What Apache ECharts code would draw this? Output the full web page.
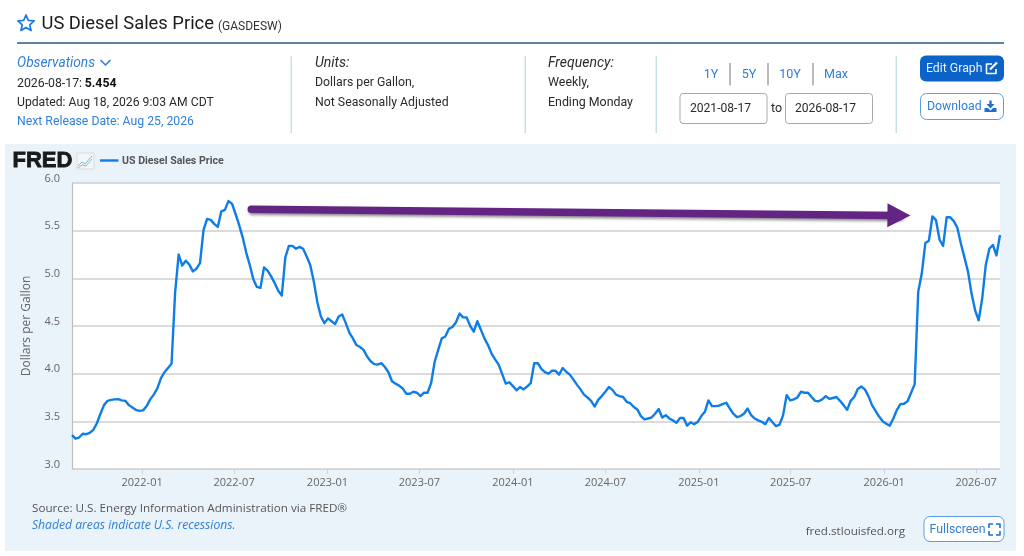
<!DOCTYPE html>
<html><head><meta charset="utf-8">
<style>html,body{margin:0;padding:0;background:#fff}#c{width:1024px;height:556px}</style>
<script src="https://cdn.jsdelivr.net/npm/echarts@6/dist/echarts.min.js"></script>
</head><body><div id="c"></div>
<script>
const firstWeek = '2021-08-16';
const lastWeek = '2026-08-17';
const prices2021 = [3.356,3.318,3.33,3.37,3.365,3.38,3.41,3.48,3.58,3.67,3.715,3.725,3.73,3.733,3.72,3.715,3.67,3.645,3.62,3.61];
const prices2022 = [3.615,3.66,3.73,3.78,3.845,3.95,4.015,4.06,4.104,4.849,5.25,5.134,5.185,5.144,5.073,5.101,5.16,5.509,5.623,5.613,5.571,5.539,5.703,5.718,5.81,5.783,5.675,5.56,5.43,5.27,5.14,4.99,4.91,4.90,5.115,5.08,5.02,4.95,4.87,4.82,5.22,5.34,5.34,5.31,5.33,5.31,5.23,5.14,4.97,4.75,4.60,4.53];
const prices2023 = [4.58,4.55,4.52,4.60,4.62,4.53,4.43,4.37,4.30,4.28,4.25,4.18,4.13,4.10,4.095,4.11,4.07,4.015,3.92,3.895,3.875,3.845,3.79,3.79,3.81,3.80,3.765,3.80,3.80,3.90,4.125,4.25,4.37,4.39,4.47,4.49,4.54,4.63,4.59,4.59,4.50,4.44,4.55,4.46,4.37,4.30,4.21,4.15,4.095,3.995,3.895,3.91];
const prices2024 = [3.87,3.825,3.86,3.835,3.865,3.90,4.11,4.11,4.05,4.015,4.0,4.03,4.03,3.99,4.06,4.02,3.99,3.94,3.885,3.835,3.78,3.75,3.715,3.655,3.725,3.765,3.81,3.86,3.83,3.78,3.765,3.755,3.705,3.69,3.65,3.625,3.555,3.52,3.53,3.54,3.58,3.63,3.54,3.565,3.53,3.51,3.485,3.535,3.535,3.455,3.49,3.47];
const prices2025 = [3.495,3.555,3.60,3.72,3.66,3.66,3.665,3.68,3.695,3.635,3.58,3.545,3.555,3.58,3.635,3.565,3.53,3.51,3.495,3.47,3.535,3.49,3.45,3.465,3.565,3.775,3.72,3.73,3.75,3.81,3.80,3.80,3.755,3.715,3.71,3.73,3.765,3.735,3.745,3.755,3.715,3.67,3.62,3.715,3.755,3.84,3.865,3.835,3.765,3.67,3.61,3.55];
const prices2026 = [3.50,3.475,3.455,3.53,3.62,3.68,3.685,3.71,3.80,3.89,4.86,5.05,5.37,5.395,5.65,5.61,5.405,5.34,5.64,5.64,5.60,5.53,5.365,5.22,5.07,4.84,4.665,4.56,4.79,5.14,5.31,5.35,5.24,5.454];
const xTicks = ['2022-01-01','2022-07-01','2023-01-01','2023-07-01','2024-01-01','2024-07-01','2025-01-01','2025-07-01','2026-01-01','2026-07-01'];
const arrowFrom = ['2022-08-04', 5.725];
const arrowTo = ['2026-01-30', 5.66];

const prices = [].concat(prices2021, prices2022, prices2023, prices2024, prices2025, prices2026);
const DAY = 86400000;
const t0 = Date.parse(firstWeek + 'T00:00:00Z');
const seriesData = prices.map((v, i) => [t0 + i * 7 * DAY, v]);
const tickTimes = xTicks.map(d => Date.parse(d + 'T00:00:00Z'));

const UI = 'Roboto', CH = '"Open Sans"';
const BLUE = '#2f7fd9', INK = '#2b2b2b', SEP = '#c9dfe6';
const g = [];
function txt(x, y, text, o) {
  o = o || {};
  g.push({type:'text', x, y:y+2, z:o.z||5, style:{text, fill:o.c||INK, stroke:o.sc||null, lineWidth:o.sw||0, font:(o.st||'normal')+' '+(o.w||400)+' '+(o.s||13)+'px '+(o.f||UI), textAlign:o.a||'left', textVerticalAlign:'middle', textBaseline:'middle'}});
}
function rect(x, y, w, h, o) {
  g.push({type:'rect', z:o.z!==undefined?o.z:3, shape:{x,y,width:w,height:h,r:o.r||0}, style:{fill:o.fill||'none', stroke:o.stroke||null, lineWidth:o.lw||1}});
}
function line(pts, c, lw, o) {
  o = o || {};
  g.push({type:'polyline', z:6, shape:{points:pts}, style:{stroke:c, lineWidth:lw, fill:o.fill||'none', lineCap:o.cap||'butt', lineJoin:'round'}});
}
function poly(pts, fill, stroke, lw) {
  g.push({type:'polygon', z:6, shape:{points:pts}, style:{fill:fill||'none', stroke:stroke||null, lineWidth:lw||1, lineJoin:'round'}});
}
// panel
rect(5, 144, 1011, 407, {fill:'#eaf2fa', z:-10});
// title
const star = [];
for (let i = 0; i < 10; i++) { const r = i % 2 ? 3.9 : 8.6, a = -Math.PI/2 + i*Math.PI/5; star.push([26 + r*Math.cos(a), 23.6 + r*Math.sin(a)]); }
poly(star, 'none', '#1f78de', 1.7);
txt(41.5, 22.5, 'US Diesel Sales Price', {s:18.35, c:'#1c1c1c'});
txt(218, 24.5, '(GASDESW)', {s:12, c:'#333'});
rect(17, 42, 987, 2, {fill:'#5f83a3'});
// info
txt(17, 61.5, 'Observations', {st:'italic', s:13.7, c:BLUE});
line([[100.5,60],[105.5,65],[110.5,60]], BLUE, 1.6);
txt(17, 82, '2026-08-17: ', {s:12.3});
txt(84.7, 82, '5.454', {s:12.3, w:700, c:'#111'});
txt(17, 101, 'Updated: Aug 18, 2026 9:03 AM CDT', {s:12.2});
txt(17, 119.5, 'Next Release Date: Aug 25, 2026', {s:12.25, c:BLUE});
[291, 525, 656, 896].forEach(x => rect(x-0.5, 56, 1.5, 77, {fill:SEP}));
txt(315, 61, 'Units:', {st:'italic', s:14});
txt(315, 80.5, 'Dollars per Gallon,', {s:12.3});
txt(315, 100.5, 'Not Seasonally Adjusted', {s:12.3});
txt(548, 61, 'Frequency:', {st:'italic', s:14});
txt(548, 80.5, 'Weekly,', {s:12.4});
txt(548, 100.5, 'Ending Monday', {s:12.4});
[['1Y',711],['5Y',749],['10Y',790],['Max',836]].forEach(a => txt(a[1], 73, a[0], {a:'center', s:12.6, c:BLUE}));
[730, 768, 813].forEach(x => rect(x-0.5, 63, 1, 22.5, {fill:'#777'}));
rect(680, 93.5, 87, 30, {fill:'#fff', stroke:'#aaa', r:3});
rect(785.5, 93.5, 87, 30, {fill:'#fff', stroke:'#aaa', r:3});
txt(720.5, 107, '2021-08-17', {a:'center', s:12.1});
txt(776.5, 106.5, 'to', {a:'center', s:12.5});
txt(825.5, 107, '2026-08-17', {a:'center', s:12.1});
// buttons
rect(920, 55.5, 84, 26, {fill:'#0b62c8', r:6});
txt(926, 67, 'Edit Graph', {s:12.3, c:'#e8f1fb'});
line([[992,64],[986.5,64],[986.5,73.5],[996,73.5],[996,69]], '#fff', 1.6);
line([[990,69.5],[997,62.5]], '#fff', 2.2);
rect(920.5, 93.5, 83, 26, {fill:'#fff', stroke:'#5a9de0', r:6});
txt(927, 104.5, 'Download', {s:12.3, c:BLUE});
line([[990.5,100.5],[990.5,106]], '#1f6fd0', 2.4);
poly([[986.5,104],[994.5,104],[990.5,108.5]], '#1f6fd0');
poly([[984.5,108],[988,108],[990.5,110.5],[993,108],[996.5,108],[996.5,112],[984.5,112]], '#1f6fd0');
// FRED logo + legend
txt(12.5, 158.5, 'FRED', {s:22, w:700, f:'"Liberation Sans"', c:'#1a1a1a', sc:'#1a1a1a', sw:0.8});
rect(77, 153, 17, 16, {fill:'#f3f6f8', stroke:'#d8dde0'});
line([[78,166],[82,162],[85,164],[92,156]], '#7fb4d8', 1);
line([[78,168],[82,165],[86,166],[92,159]], '#8cc5a8', 1);
line([[100,160.5],[118.5,160.5]], '#0f7de6', 2.4);
txt(122, 159, 'US Diesel Sales Price', {s:10.6, w:700, f:'Roboto', c:'#555'});
// footer
txt(32, 506.5, 'Source: U.S. Energy Information Administration via FRED\u00ae', {s:11.67, f:CH, c:'#555'});
txt(32, 523.5, 'Shaded areas indicate U.S. recessions.', {s:12.15, st:'italic', f:CH, c:BLUE});
txt(905, 530, 'fred.stlouisfed.org', {s:11.65, a:'right', f:CH, c:'#555'});
rect(924, 516.5, 80, 25, {fill:'#fff', stroke:'#5a9de0', r:6});
txt(929.5, 528, 'Fullscreen', {s:12.3, c:BLUE});
[[[989,528],[989,524],[993,524]],[[996,524],[1000,524],[1000,528]],[[989,531],[989,535],[993,535]],[[996,535],[1000,535],[1000,531]]].forEach(p => line(p, '#1f6fd0', 1.6));

const chart = echarts.init(document.getElementById('c'), null, {renderer:'canvas', width:1024, height:556});
chart.setOption({
  animation:false,
  backgroundColor:'#fff',
  grid:{left:72, right:24, top:183, bottom:87, show:true, backgroundColor:'#fff', borderWidth:0, containLabel:false},
  xAxis:{
    type:'value', min:t0, max:Date.parse(lastWeek+'T00:00:00Z'), scale:true,
    axisLine:{show:true, lineStyle:{color:'#c8d4e8', width:1.2}},
    axisTick:{show:true, length:5, lineStyle:{color:'#c8d4e8'}, customValues:tickTimes},
    splitLine:{show:false},
    axisLabel:{customValues:tickTimes, color:'#666', fontFamily:CH, fontSize:11, margin:8, hideOverlap:false,
      showMinLabel:true, showMaxLabel:true,
      formatter:v => new Date(v).toISOString().slice(0,7)}
  },
  yAxis:{
    type:'value', min:3, max:6, interval:0.5,
    name:'Dollars per Gallon', nameLocation:'middle', nameGap:39, nameRotate:90,
    nameTextStyle:{color:'#666', fontFamily:CH, fontSize:12},
    axisLine:{show:true, lineStyle:{color:'#bdbdbd', width:1.2}},
    axisTick:{show:false},
    splitLine:{show:true, lineStyle:{color:'#cfcfcf', width:1.6}},
    axisLabel:{color:'#666', fontFamily:CH, fontSize:11, margin:12, formatter:v => v.toFixed(1), verticalAlign:'bottom', lineHeight:9}
  },
  series:[{
    type:'line', name:'US Diesel Sales Price', data:seriesData, showSymbol:false, symbol:'none', smooth:false,
    lineStyle:{color:'#0f7de6', width:2.4, join:'round'}, z:3,
    markLine:{
      silent:true, animation:false, symbol:['none','triangle'], symbolSize:[24,23], precision:5,
      label:{show:false}, emphasis:{disabled:true},
      lineStyle:{color:'#642484', type:'solid', width:7.5, cap:'round', shadowColor:'rgba(0,0,0,0.45)', shadowBlur:3, shadowOffsetX:1, shadowOffsetY:2},
      data:[[{coord:[Date.parse(arrowFrom[0]+'T00:00:00Z'), arrowFrom[1]], symbol:'none'},{coord:[Date.parse(arrowTo[0]+'T00:00:00Z'), arrowTo[1]], symbol:'triangle'}]]
    }
  }],
  graphic:{elements:g}
});
</script></body></html>
